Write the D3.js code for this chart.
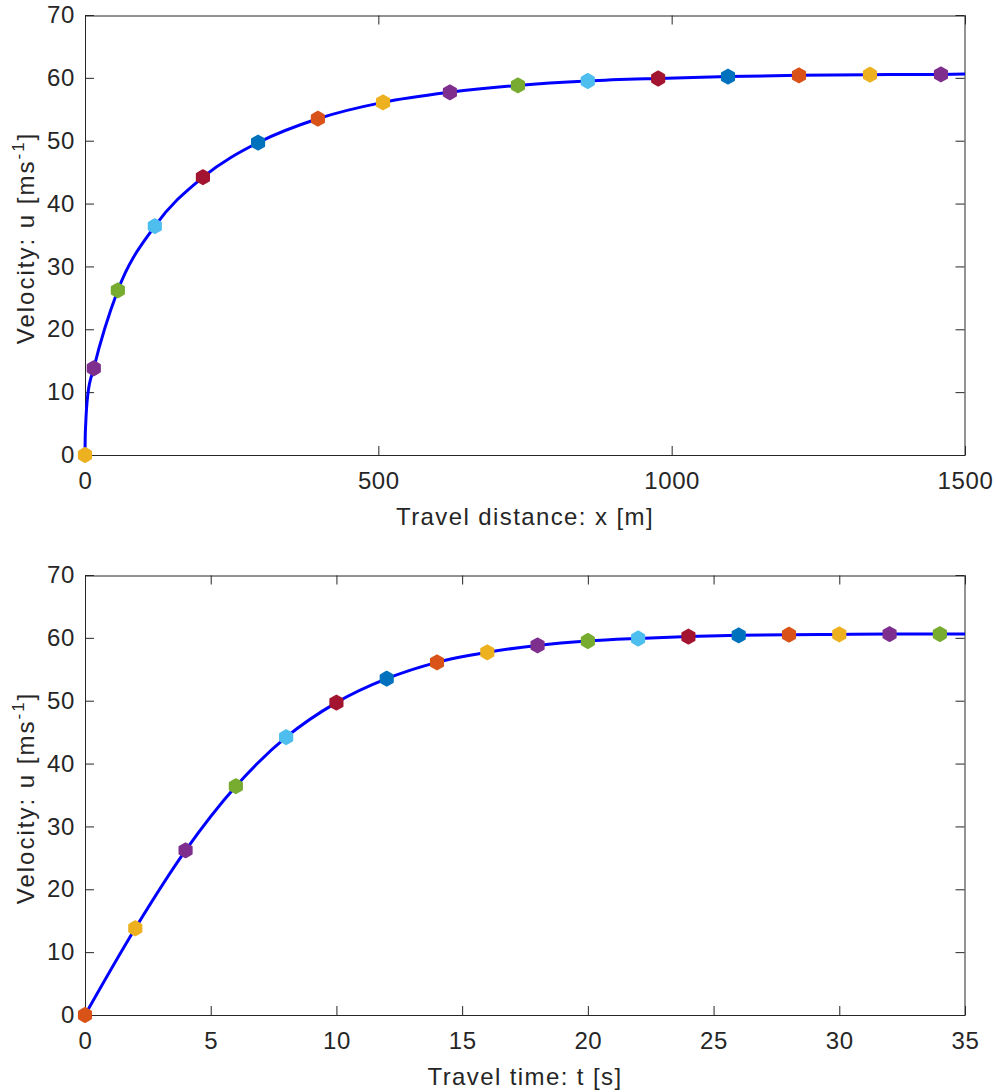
<!DOCTYPE html>
<html><head><meta charset="utf-8">
<script src="https://cdn.jsdelivr.net/npm/d3@7"></script>
<style>
body{margin:0;background:#fff}
svg text{font-family:"Liberation Sans",Arial,Helvetica,sans-serif;fill:#262626}
</style>
</head><body>
<svg id="chart" width="996" height="1092"></svg>
<script>
// MATLAB default colour order
const palette = ["#0072BD","#D95319","#EDB120","#7E2F8E","#77AC30","#4DBEEE","#A2142F"];

// ---- top panel: velocity vs travel distance ----
const distMarkerX = [0, 15, 56, 119, 201, 295, 397, 508, 622, 738, 857, 977, 1096, 1217, 1338, 1459];
const distMarkerU = [0, 13.8, 26.2, 36.4, 44.2, 49.7, 53.5, 56.1, 57.7, 58.8, 59.5, 59.9, 60.2, 60.4, 60.5, 60.55];
const distColorStart = 2;
const distCurveX = [0, 0.3, 1.2, 4.9, 15, 56, 119, 201, 295, 397, 508, 622, 738, 857, 977, 1096, 1217, 1338, 1459, 1500];
const distCurveU = [0, 2.5, 4.9, 9.7, 13.8, 26.2, 36.4, 44.2, 49.7, 53.5, 56.1, 57.7, 58.8, 59.5, 59.9, 60.2, 60.4, 60.5, 60.55, 60.6];
const distTicks = [0, 500, 1000, 1500];

// ---- bottom panel: velocity vs travel time ----
const timeMarkerT = [0, 2, 4, 6, 8, 10, 12, 14, 16, 18, 20, 22, 24, 26, 28, 30, 32, 34];
const timeMarkerU = [0, 13.8, 26.2, 36.4, 44.2, 49.7, 53.5, 56.1, 57.7, 58.8, 59.5, 59.9, 60.2, 60.4, 60.5, 60.55, 60.6, 60.6];
const timeColorStart = 1;
const timeCurveT = [0, 2, 4, 6, 8, 10, 12, 14, 16, 18, 20, 22, 24, 26, 28, 30, 32, 34, 35];
const timeCurveU = [0, 13.8, 26.2, 36.4, 44.2, 49.7, 53.5, 56.1, 57.7, 58.8, 59.5, 59.9, 60.2, 60.4, 60.5, 60.55, 60.6, 60.6, 60.6];
const timeTicks = [0, 5, 10, 15, 20, 25, 30, 35];

const velTicks = [0, 10, 20, 30, 40, 50, 60, 70];

const svg = d3.select("#chart");
const L = 85, R = 965, H = 440;
const axisColor = "#262626";

function hexagram(R1, r1) {
  const pts = [];
  for (let i = 0; i < 12; i++) {
    const a = -Math.PI / 2 + i * Math.PI / 6;
    const rr = i % 2 === 0 ? R1 : r1;
    pts.push([rr * Math.cos(a), rr * Math.sin(a)]);
  }
  return "M" + pts.map(p => p[0].toFixed(2) + "," + p[1].toFixed(2)).join("L") + "Z";
}
const markerPath = hexagram(7.2, 6.3);

function panel(top, xDomain, xTicks, xLabel, curveX, curveU, mX, mU, colorStart) {
  const g = svg.append("g");
  const x = d3.scaleLinear().domain(xDomain).range([L, R]);
  const y = d3.scaleLinear().domain([0, 70]).range([top + H, top]);

  const fmt = d3.format("d");
  const ax = [
    g.append("g").attr("transform", `translate(0,${top + H})`)
      .call(d3.axisBottom(x).tickValues(xTicks).tickFormat(fmt).tickSizeInner(-9).tickSizeOuter(0).tickPadding(17)),
    g.append("g").attr("transform", `translate(0,${top + 0.5})`)
      .call(d3.axisTop(x).tickValues(xTicks).tickFormat("").tickSizeInner(-9).tickSizeOuter(0)),
    g.append("g").attr("transform", `translate(${L},0)`)
      .call(d3.axisLeft(y).tickValues(velTicks).tickFormat(fmt).tickSizeInner(-9).tickSizeOuter(0).tickPadding(10)),
    g.append("g").attr("transform", `translate(${R - 0.5},0)`)
      .call(d3.axisRight(y).tickValues(velTicks).tickFormat("").tickSizeInner(-9).tickSizeOuter(0))
  ];
  ax.forEach(a => {
    a.select(".domain").attr("stroke", axisColor).attr("stroke-width", 1);
    a.selectAll(".tick line").attr("stroke", axisColor).attr("stroke-width", 1);
    a.selectAll(".tick text").attr("font-size", 24).attr("fill", axisColor)
      .style("font-family", '"Liberation Sans",Arial,sans-serif').style("letter-spacing", "0.6px");
  });

  const pts = curveX.map((v, i) => [v, curveU[i]]);
  g.append("path").datum(pts)
    .attr("fill", "none").attr("stroke", "#0000FF").attr("stroke-width", 3)
    .attr("d", d3.line().x(d => x(d[0])).y(d => y(d[1])).curve(d3.curveMonotoneX));

  const md = mX.map((v, i) => ({x: v, u: mU[i], c: palette[(colorStart + i) % palette.length]}));
  g.selectAll("path.mk").data(md).join("path").attr("class", "mk")
    .attr("transform", d => `translate(${x(d.x)},${y(d.u)})`)
    .attr("d", markerPath)
    .attr("fill", d => d.c).attr("stroke", d => d.c).attr("stroke-width", 1.6).attr("stroke-linejoin", "round");

  g.append("text").attr("x", (L + R) / 2).attr("y", top + H + 70)
    .attr("text-anchor", "middle").attr("font-size", 24).style("letter-spacing", "1.4px").text(xLabel);

  const yl = g.append("text")
    .attr("transform", `translate(34,${top + H / 2 + 3}) rotate(-90)`)
    .attr("text-anchor", "middle").attr("font-size", 24).style("letter-spacing", "2px");
  yl.append("tspan").text("Velocity: u [ms");
  yl.append("tspan").attr("font-size", 17).attr("dy", -10).text("-1");
  yl.append("tspan").attr("dy", 10).text("]");
}

panel(15, [0, 1500], distTicks, "Travel distance: x [m]", distCurveX, distCurveU, distMarkerX, distMarkerU, distColorStart);
panel(575, [0, 35], timeTicks, "Travel time: t [s]", timeCurveT, timeCurveU, timeMarkerT, timeMarkerU, timeColorStart);
</script>
</body></html>
